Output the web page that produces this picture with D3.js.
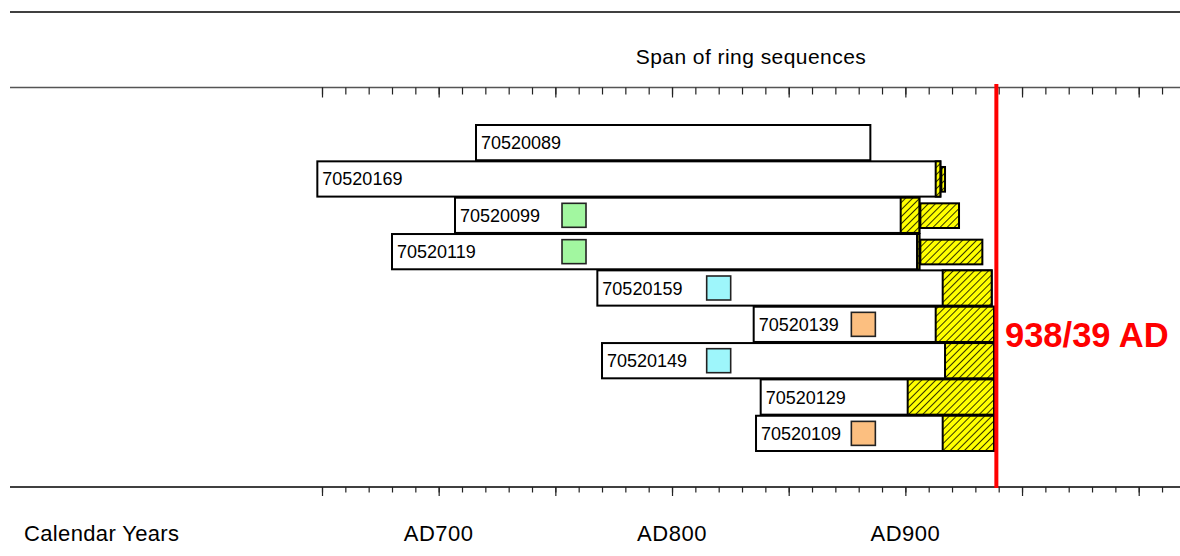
<!DOCTYPE html>
<html>
<head>
<meta charset="utf-8">
<script src="https://cdn.jsdelivr.net/npm/d3@7"></script>
<style>
  body { margin: 0; background: #fff; }
  svg { display: block; font-family: "Liberation Sans", Arial, sans-serif; }
</style>
</head>
<body>
<div id="chart"></div>
<script>
// sample ids, top to bottom
const samples = ["70520089", "70520169", "70520099", "70520119", "70520159", "70520139", "70520149", "70520129", "70520109"];
// first ring (year AD)
const startYears = [716, 648, 707, 680, 768, 835, 770, 838, 836];
// last heartwood ring
const heartwoodEnd = [885, 913, 898, 905, 916, 913, 917, 901, 916];
// last measured sapwood ring
const sapwoodEnd = [885, 915, 906, 906, 937, 938, 938, 938, 938];
// estimated missing sapwood (null = none)
const estimatedEnd = [null, 917, 923, 933, null, null, null, null, null];
// same-tree group markers
const markerYears = [null, null, 758, 758, 820, 882, 820, null, 882];
const markerColors = [null, null, "#a2f7a0", "#a2f7a0", "#9ef6fb", "#fcbf80", "#9ef6fb", null, "#fcbf80"];
const fellingYear = 939;
const fellingLabel = "938/39 AD";
const axisLabels = [700, 800, 900];

const width = 1180, height = 556;

const svg = d3.select("#chart").append("svg")
  .attr("width", width)
  .attr("height", height);

const defs = svg.append("defs");
const pat = defs.append("pattern")
  .attr("id", "hatch")
  .attr("patternUnits", "userSpaceOnUse")
  .attr("width", 5)
  .attr("height", 5)
  .attr("patternTransform", "rotate(45)");
pat.append("rect").attr("width", 5).attr("height", 5).attr("fill", "#ffff00");
pat.append("line").attr("x1", 0).attr("y1", 0).attr("x2", 0).attr("y2", 5)
  .attr("stroke", "#000").attr("stroke-width", 1.6);

const x = d3.scaleLinear().domain([650, 1000]).range([322, 1138.7]);
const y = d3.scaleBand().domain(samples).range([125, 451]).paddingInner(0.03);

// frame lines
svg.append("line").attr("x1", 10).attr("x2", 1180).attr("y1", 12).attr("y2", 12)
  .attr("stroke", "#000").attr("stroke-width", 1.3);
svg.append("line").attr("x1", 10).attr("x2", 1180).attr("y1", 87.5).attr("y2", 87.5)
  .attr("stroke", "#555").attr("stroke-width", 1.6);
svg.append("line").attr("x1", 10).attr("x2", 1180).attr("y1", 487).attr("y2", 487)
  .attr("stroke", "#000").attr("stroke-width", 1.3);

svg.append("text")
  .attr("x", 751).attr("y", 63.5)
  .attr("text-anchor", "middle")
  .attr("font-size", 21)
  .attr("letter-spacing", 0.45)
  .text("Span of ring sequences");

// ticks
const minor = d3.range(650, 1011, 10);
const major = d3.range(650, 1011, 50);

function drawTicks(yPos, minorLen, majorLen) {
  const gMin = svg.append("g").attr("transform", `translate(0,${yPos})`)
    .call(d3.axisBottom(x).tickValues(minor).tickSize(minorLen).tickFormat(""));
  const gMaj = svg.append("g").attr("transform", `translate(0,${yPos})`)
    .call(d3.axisBottom(x).tickValues(major).tickSize(majorLen).tickFormat(""));
  [gMin, gMaj].forEach(g => {
    g.select(".domain").remove();
    g.selectAll(".tick line").attr("stroke", "#222").attr("stroke-width", 1.2);
  });
}
drawTicks(87.5, 7, 10);
drawTicks(487, 5.5, 9);

// rows
const rows = svg.append("g").selectAll("g")
  .data(samples)
  .join("g");

rows.append("rect")
  .attr("x", (d, i) => x(startYears[i]))
  .attr("y", d => y(d))
  .attr("width", (d, i) => x(sapwoodEnd[i]) - x(startYears[i]))
  .attr("height", y.bandwidth())
  .attr("fill", "#fff")
  .attr("stroke", "#000")
  .attr("stroke-width", 2);

rows.filter((d, i) => sapwoodEnd[i] > heartwoodEnd[i])
  .append("rect")
  .attr("x", d => x(heartwoodEnd[samples.indexOf(d)]))
  .attr("y", d => y(d))
  .attr("width", d => { const i = samples.indexOf(d); return x(sapwoodEnd[i]) - x(heartwoodEnd[i]); })
  .attr("height", y.bandwidth())
  .attr("fill", "url(#hatch)")
  .attr("stroke", "#000")
  .attr("stroke-width", 2);

rows.filter((d, i) => estimatedEnd[i] !== null)
  .append("rect")
  .attr("x", d => x(sapwoodEnd[samples.indexOf(d)]) + 1)
  .attr("y", d => y(d) + y.bandwidth() * 0.16)
  .attr("width", d => { const i = samples.indexOf(d); return x(estimatedEnd[i]) - x(sapwoodEnd[i]) - 1; })
  .attr("height", y.bandwidth() * 0.7)
  .attr("fill", "url(#hatch)")
  .attr("stroke", "#000")
  .attr("stroke-width", 2);

rows.append("text")
  .attr("x", (d, i) => x(startYears[i]) + 5)
  .attr("y", d => y(d) + y.bandwidth() / 2 + 6.5)
  .attr("font-size", 18)
  .text(d => d);

const sq = 24;
rows.filter((d, i) => markerYears[i] !== null)
  .append("rect")
  .attr("x", d => x(markerYears[samples.indexOf(d)]) - sq / 2)
  .attr("y", d => y(d) + y.bandwidth() / 2 - sq / 2)
  .attr("width", sq)
  .attr("height", sq)
  .attr("fill", d => markerColors[samples.indexOf(d)])
  .attr("stroke", "#222")
  .attr("stroke-width", 1.6);

// felling line
svg.append("line")
  .attr("x1", x(fellingYear)).attr("x2", x(fellingYear))
  .attr("y1", 84).attr("y2", 488)
  .attr("stroke", "#ff0000").attr("stroke-width", 4);

svg.append("text")
  .attr("x", 1005).attr("y", 347)
  .attr("font-size", 34.5)
  .attr("font-weight", "bold")
  .attr("fill", "#ff0000")
  .text(fellingLabel);

// bottom labels
svg.append("text")
  .attr("x", 24).attr("y", 541)
  .attr("font-size", 22)
  .attr("letter-spacing", 0.35)
  .text("Calendar Years");

svg.selectAll(".yl")
  .data(axisLabels)
  .join("text")
  .attr("x", d => x(d))
  .attr("y", 541)
  .attr("text-anchor", "middle")
  .attr("font-size", 22)
  .attr("letter-spacing", 0.5)
  .text(d => "AD" + d);
</script>
</body>
</html>
